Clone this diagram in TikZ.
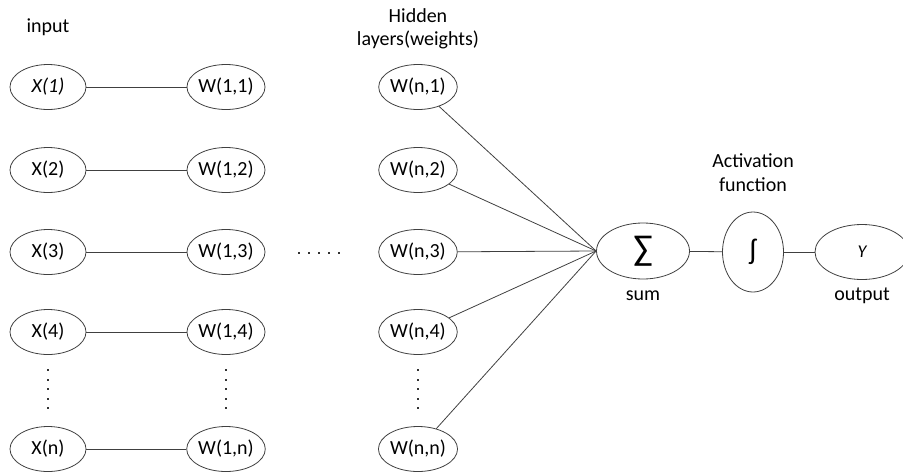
\documentclass[tikz,border=0pt]{standalone}
\usepackage{fontspec}
\setmainfont{Carlito}
\usetikzlibrary{shapes.geometric}
\begin{document}
\begin{tikzpicture}[x=1pt,y=-1pt,
  unit/.style={ellipse,draw=black!75,line width=0.8pt,inner sep=0pt,
    minimum width=76pt,minimum height=45pt,font=\fontsize{20}{22}\selectfont},
  caption/.style={font=\fontsize{20}{22}\selectfont,inner sep=0pt},
  wire/.style={draw=black!75,line width=0.8pt},
  dotmark/.style={fill=black!80}]
\useasboundingbox (0,0) rectangle (903,472);

% column titles
\node[caption] (tin) at (48,27) {input};
\node[caption] (thid1) at (418,16) {Hidden};
\node[caption] (thid2) at (418,40) {layers(weights)};

% inputs, first weight layer, last weight layer
\foreach \r/\y/\lab in {1/87/\textit{X(1)},2/170/X(2),3/252/X(3),4/332/X(4),n/449/X(n)}{
  \node[unit] (x\r) at (48,\y) {\lab};
  \node[unit] (wa\r) at (226,\y) {W(1,\r)};
  \node[unit] (wb\r) at (418,\y) {W(n,\r)};
  \draw[wire] (x\r) -- (wa\r);
}

% vertical ellipses in each column
\foreach \cx in {48,226,418}{
  \foreach \k in {0,...,4}{
    \fill[dotmark] (\cx-1.1,369+\k*9.5) rectangle ++(2.2,2.2);
  }
}
% horizontal ellipsis between the weight layers
\foreach \k in {0,...,4}{
  \fill[dotmark] (298+\k*10,252) rectangle ++(2.2,2.2);
}

% summation, activation and output
\node[unit,minimum width=93pt,minimum height=56pt,font=\fontsize{36}{38}\selectfont] (sum) at (643,251) {∑};
\node[unit,minimum width=61pt,minimum height=80pt,font=\fontsize{30}{32}\selectfont] (act) at (753,252) {ʃ};
\node[unit,minimum width=94pt,minimum height=55pt,font=\fontsize{18}{20}\selectfont\itshape] (out) at (862,252) {Y};

\node[caption] (tsum) at (643,296) {sum};
\node[caption] (tout) at (862,296) {output};
\node[caption] (tact1) at (753,161) {Activation};
\node[caption] (tact2) at (753,185) {function};

\foreach \r in {1,2,3,4,n}{
  \draw[wire] (wb\r) -- (sum.west);
}
\draw[wire] (sum) -- (act);
\draw[wire] (act) -- (out);
\end{tikzpicture}
\end{document}
